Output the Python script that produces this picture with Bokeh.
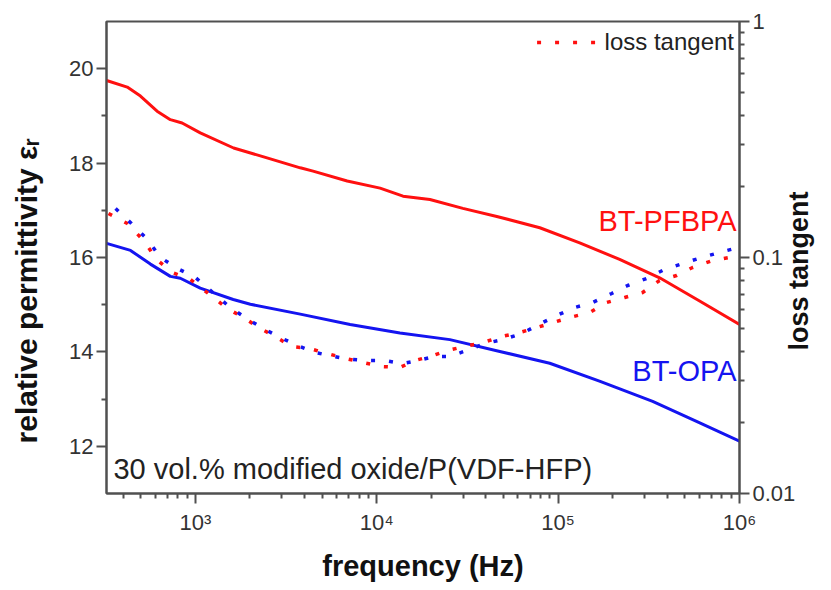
import math
from bokeh.plotting import figure
from bokeh.models import (Range1d, LogScale, LogAxis, LinearAxis, FixedTicker, Legend,
                          LegendItem, Label, PrintfTickFormatter)
from bokeh.embed import file_html
from bokeh.resources import INLINE

# ---------------- data ----------------
# permittivity, BT-PFBPA (red, solid)
pf_freq = [324, 421, 498, 615, 728, 845, 1064, 1625, 2483, 3786, 4456, 6870, 10430, 13960,
           19640, 29850, 45930, 79250, 131500, 218300, 362600, 602600, 1000000]
pf_eps = [19.75, 19.61, 19.42, 19.10, 18.92, 18.85, 18.64, 18.32, 18.11, 17.90, 17.83, 17.62,
          17.47, 17.30, 17.23, 17.04, 16.87, 16.63, 16.31, 15.96, 15.57, 15.08, 14.58]

# permittivity, BT-OPA (blue, solid)
opa_freq = [324, 439, 565, 728, 826, 1064, 1617, 2009, 3786, 7130, 13430, 25300, 47700,
            89900, 169000, 332000, 579400, 1000000]
opa_eps = [16.30, 16.15, 15.86, 15.60, 15.56, 15.35, 15.11, 15.01, 14.80, 14.58, 14.40,
           14.26, 14.01, 13.76, 13.38, 12.95, 12.53, 12.11]

# loss tangent, BT-PFBPA (red, dotted)
pf_tan_freq = [332, 422, 524, 610, 747, 938, 1179, 1500, 1885, 2279, 2756, 3376, 4240, 5326,
               6778, 8409, 10700, 13440, 16250, 20420, 24700, 30630, 38480, 48950, 61500,
               76280, 115900, 149400, 185300, 232700, 292400, 362600, 449900, 551000,
               710000, 880600, 1000000]
pf_tan = [0.1536, 0.1393, 0.1169, 0.0981, 0.0864, 0.0807, 0.0704, 0.0608, 0.0551, 0.0500,
          0.0463, 0.0420, 0.0412, 0.0392, 0.0373, 0.0359, 0.0345, 0.0342, 0.0366, 0.0384,
          0.0404, 0.0420, 0.0436, 0.0463, 0.0481, 0.0505, 0.0557, 0.0585, 0.0645, 0.0677,
          0.0711, 0.0799, 0.0839, 0.0907, 0.0971, 0.1000, 0.1020]

# loss tangent, BT-OPA (blue, dotted)
opa_tan_freq = [363, 444, 544, 642, 796, 1000, 1558, 1957, 2367, 2936, 3642, 4576, 5747,
                7131, 8845, 11110, 13780, 16880, 20940, 25330, 31420, 39470, 49580, 63080,
                78230, 98280, 123500, 155100, 197400, 241700, 307600, 386400, 485500,
                617600, 775900, 974500]
opa_tan = [0.1613, 0.1393, 0.1192, 0.1000, 0.0898, 0.0823, 0.0614, 0.0546, 0.0500, 0.0458,
           0.0424, 0.0396, 0.0381, 0.0370, 0.0366, 0.0366, 0.0355, 0.0366, 0.0381, 0.0381,
           0.0404, 0.0432, 0.0449, 0.0476, 0.0520, 0.0568, 0.0614, 0.0645, 0.0704, 0.0761,
           0.0815, 0.0890, 0.0943, 0.1000, 0.1050, 0.1100]

x_major = [1e3, 1e4, 1e5, 1e6]
x_labels = ["10³", "10⁴", "10⁵", "10⁶"]
eps_major = [12, 14, 16, 18, 20]
tan_major = [0.01, 0.1, 1]

# ---------------- styling ----------------
FONT = "Liberation Sans"
RED = "#ff1010"
BLUE = "#1414f0"
AXC = "#505050"
X0, X1 = 10 ** 2.51, 1e6
Y0, Y1 = 11, 21
FW, FH = 634, 472  # frame width / height in px

p = figure(width=831, height=590, x_axis_type="log", output_backend="svg",
           toolbar_location=None, x_range=Range1d(X0, X1), y_range=Range1d(Y0, Y1),
           min_border_left=106, min_border_right=91, min_border_top=21, min_border_bottom=97)
p.extra_y_ranges = {"tan": Range1d(0.01, 1), "px": Range1d(0, FH)}
p.extra_y_scales = {"tan": LogScale()}
p.grid.visible = False
p.outline_line_color = AXC
p.outline_line_width = 2
p.background_fill_color = "white"
p.border_fill_color = "white"

# solid permittivity curves
p.line(pf_freq, pf_eps, color=RED, line_width=3)
p.line(opa_freq, opa_eps, color=BLUE, line_width=3)
# dotted loss tangent curves
r_tan = p.line(pf_tan_freq, pf_tan, color=RED, line_width=3.5, line_dash="4 14",
               y_range_name="tan")
p.line(opa_tan_freq, opa_tan, color=BLUE, line_width=3.5, line_dash="4 14",
       y_range_name="tan")

# x axis
xa = p.xaxis[0]
minor_x = []
for dec in [100, 1000, 10000, 100000]:
    for m in range(2, 10):
        minor_x.append(dec * m)
xa.ticker = FixedTicker(ticks=x_major, minor_ticks=minor_x)
xa.major_label_overrides = {int(v): s for v, s in zip(x_major, x_labels)}
xa.axis_label = "frequency (Hz)"

# left axis (trailing no-break spaces move the centred title down, as in the reference)
ya = p.yaxis[0]
ya.ticker = FixedTicker(ticks=eps_major, minor_ticks=[13, 15, 17, 19])
ya.axis_label = "relative permittivity εᵣ" + "\u00a0" * 8

# right axis (loss tangent, log)
minor_t = []
for dec in [0.01, 0.1]:
    for m in range(2, 10):
        minor_t.append(round(dec * m, 3))
ra = LogAxis(y_range_name="tan", ticker=FixedTicker(ticks=tan_major, minor_ticks=minor_t),
             formatter=PrintfTickFormatter(format="%g"))
p.add_layout(ra, "right")

for ax in [xa, ya, ra]:
    ax.axis_line_color = AXC
    ax.axis_line_width = 2
    ax.major_tick_line_color = AXC
    ax.minor_tick_line_color = AXC
    ax.major_tick_line_width = 2
    ax.minor_tick_line_width = 2
    ax.major_tick_in = 0
    ax.major_tick_out = 10
    ax.minor_tick_in = 0
    ax.minor_tick_out = 5
    ax.major_label_text_font = FONT
    ax.major_label_text_font_size = "22px"
    ax.major_label_text_color = "#333333"
    ax.axis_label_text_font = FONT
    ax.axis_label_text_font_size = "29px"
    ax.axis_label_text_font_style = "bold"
    ax.axis_label_text_color = "#111111"
ya.axis_label_text_font_size = "30px"
ya.major_label_standoff = 3
ya.axis_label_standoff = 23
ra.major_label_standoff = 3
xa.major_label_standoff = 6
xa.axis_label_standoff = 12

# right-hand title "loss tangent": a bare axis whose single rotated label reads
# bottom-to-top and starts where the reference's title starts (143 px above the frame bottom)
TITLE_START = 143
ta = LinearAxis(y_range_name="px", ticker=FixedTicker(ticks=[TITLE_START], minor_ticks=[]),
                major_label_overrides={TITLE_START: "loss tangent"},
                major_label_orientation=math.pi / 2)
ta.axis_line_color = None
ta.major_tick_line_color = None
ta.minor_tick_line_color = None
ta.major_tick_out = 0
ta.major_tick_in = 0
ta.major_label_standoff = 0
ta.major_label_text_font = FONT
ta.major_label_text_font_size = "27px"
ta.major_label_text_font_style = "bold"
ta.major_label_text_color = "#111111"
p.add_layout(ta, "right")


# helpers: place text at a pixel offset inside the frame, through the plot's own scales
def xpix(px):
    lo, hi = math.log10(X0), math.log10(X1)
    return 10 ** (lo + (hi - lo) * px / FW)


def ypix(py):
    return Y0 + (Y1 - Y0) * py / FH


# legend
leg = Legend(items=[LegendItem(label="loss tangent", renderers=[r_tan])],
             location="top_right", glyph_width=62, glyph_height=32, label_height=32,
             label_text_font=FONT, label_text_font_size="24px", label_text_color="#222222",
             background_fill_alpha=0, border_line_alpha=0, margin=3, padding=2,
             label_standoff=6, spacing=0)
p.add_layout(leg)

# text labels
p.add_layout(Label(x=xpix(FW - 3), y=ypix(257), text="BT-PFBPA", text_align="right",
                   text_color=RED, text_font=FONT, text_font_size="29px"))
p.add_layout(Label(x=xpix(FW - 3), y=ypix(107), text="BT-OPA", text_align="right",
                   text_color=BLUE, text_font=FONT, text_font_size="29px"))
p.add_layout(Label(x=xpix(7), y=ypix(9), text="30 vol.% modified oxide/P(VDF-HFP)",
                   text_align="left", text_color="#222222",
                   text_font=FONT, text_font_size="29px"))

open("out.html", "w").write(file_html(p, INLINE))
